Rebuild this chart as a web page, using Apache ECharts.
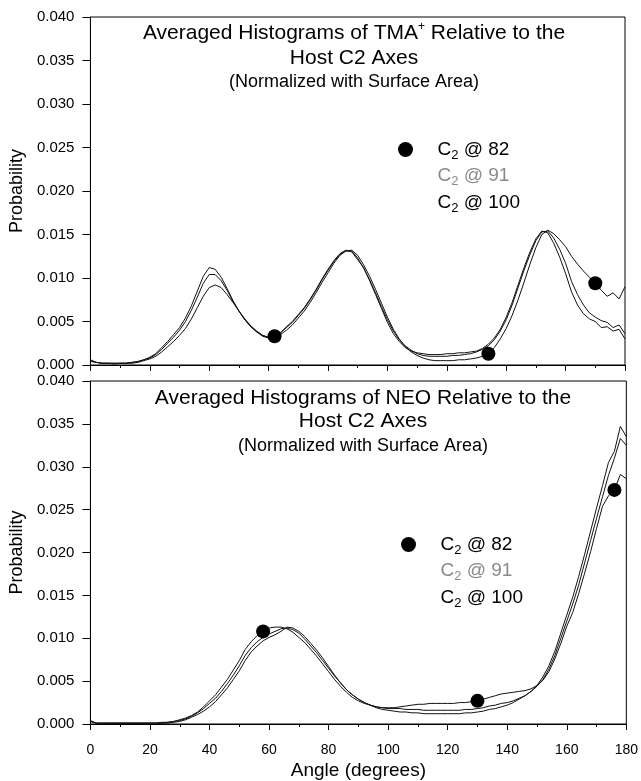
<!DOCTYPE html>
<html>
<head>
<meta charset="utf-8">
<script src="https://cdn.jsdelivr.net/npm/echarts@6/dist/echarts.min.js"></script>
<style>
html,body{margin:0;padding:0;background:#fff;}
#chart{width:641px;height:781px;}
</style>
</head>
<body>
<div id="chart"></div>
<script>
// ---- data ----
const angles = [
  0,2,4,6,8,10,12,14,16,18,
  20,22,24,26,28,30,32,34,36,38,
  40,42,44,46,48,50,52,54,56,58,
  60,62,64,66,68,70,72,74,76,78,
  80,82,84,86,88,90,92,94,96,98,
  100,102,104,106,108,110,112,114,116,118,
  120,122,124,126,128,130,132,134,136,138,
  140,142,144,146,148,150,152,154,156,158,
  160,162,164,166,168,170,172,174,176,178,
  180
];
const xTicks = [0,20,40,60,80,100,120,140,160,180];
const yTicks = [0,0.005,0.010,0.015,0.020,0.025,0.030,0.035,0.040];
const seriesNames = ['C2 @ 82','C2 @ 91','C2 @ 100'];

// Top panel: TMA+
const tmaC2at82 = [
  0.0004,0.0003,0.0002,0.0002,0.0002,0.0002,0.0002,0.0002,0.0003,0.0005,
  0.0007,0.0010,0.0015,0.0021,0.0027,0.0034,0.0042,0.0053,0.0066,0.0079,
  0.0089,0.0092,0.0089,0.0081,0.0072,0.0062,0.0053,0.0045,0.0039,0.0034,
  0.0031,0.0033,0.0035,0.0040,0.0046,0.0054,0.0062,0.0072,0.0083,0.0095,
  0.0106,0.0117,0.0126,0.0131,0.0132,0.0126,0.0115,0.0102,0.0087,0.0071,
  0.0055,0.0041,0.0030,0.0021,0.0015,0.0011,0.0008,0.0006,0.0005,0.0005,
  0.0005,0.0005,0.0006,0.0006,0.0007,0.0008,0.0010,0.0013,0.0020,0.0030,
  0.0042,0.0057,0.0075,0.0095,0.0116,0.0135,0.0150,0.0155,0.0151,0.0144,
  0.0136,0.0125,0.0116,0.0108,0.0101,0.0094,0.0086,0.0079,0.0083,0.0076,
  0.0090
];
const tmaC2at91 = [
  0.0005,0.0003,0.0002,0.0002,0.0002,0.0002,0.0002,0.0003,0.0004,0.0006,
  0.0008,0.0012,0.0018,0.0025,0.0032,0.0040,0.0050,0.0063,0.0078,0.0094,
  0.0104,0.0104,0.0097,0.0086,0.0073,0.0062,0.0052,0.0044,0.0038,0.0034,
  0.0032,0.0033,0.0037,0.0043,0.0049,0.0057,0.0065,0.0075,0.0086,0.0098,
  0.0109,0.0119,0.0127,0.0131,0.0131,0.0123,0.0111,0.0098,0.0083,0.0067,
  0.0052,0.0039,0.0029,0.0022,0.0017,0.0013,0.0011,0.0010,0.0010,0.0010,
  0.0010,0.0011,0.0011,0.0012,0.0013,0.0015,0.0018,0.0022,0.0029,0.0039,
  0.0052,0.0069,0.0089,0.0109,0.0127,0.0143,0.0153,0.0154,0.0146,0.0133,
  0.0117,0.0096,0.0081,0.0069,0.0060,0.0055,0.0051,0.0049,0.0043,0.0046,
  0.0036
];
const tmaC2at100 = [
  0.0006,0.0003,0.0002,0.0002,0.0001,0.0002,0.0002,0.0003,0.0004,0.0006,
  0.0009,0.0013,0.0020,0.0027,0.0035,0.0043,0.0054,0.0068,0.0085,0.0102,
  0.0112,0.0110,0.0101,0.0088,0.0074,0.0062,0.0052,0.0044,0.0038,0.0033,
  0.0031,0.0032,0.0037,0.0044,0.0050,0.0058,0.0066,0.0076,0.0087,0.0099,
  0.0110,0.0120,0.0128,0.0132,0.0130,0.0121,0.0112,0.0097,0.0081,0.0065,
  0.0049,0.0036,0.0027,0.0020,0.0016,0.0014,0.0013,0.0012,0.0012,0.0012,
  0.0013,0.0013,0.0014,0.0014,0.0015,0.0016,0.0019,0.0024,0.0031,0.0041,
  0.0055,0.0072,0.0092,0.0112,0.0130,0.0145,0.0154,0.0152,0.0140,0.0124,
  0.0105,0.0084,0.0069,0.0059,0.0053,0.0050,0.0043,0.0044,0.0039,0.0041,
  0.0030
];
const tmaMarkerAngles = [62,134,170];

// Bottom panel: NEO
const neoC2at82 = [
  0.0004,0.0001,0.0001,0.0001,0.0001,0.0001,0.0001,0.0001,0.0001,0.0001,
  0.0001,0.0001,0.0002,0.0002,0.0003,0.0005,0.0007,0.0010,0.0014,0.0020,
  0.0027,0.0034,0.0043,0.0052,0.0063,0.0074,0.0087,0.0096,0.0103,0.0108,
  0.0112,0.0113,0.0113,0.0111,0.0107,0.0101,0.0095,0.0087,0.0079,0.0070,
  0.0061,0.0052,0.0044,0.0037,0.0031,0.0027,0.0024,0.0022,0.0020,0.0019,
  0.0019,0.0019,0.0020,0.0021,0.0022,0.0023,0.0023,0.0024,0.0024,0.0024,
  0.0024,0.0024,0.0025,0.0025,0.0026,0.0027,0.0029,0.0031,0.0033,0.0035,
  0.0036,0.0037,0.0038,0.0039,0.0041,0.0045,0.0051,0.0061,0.0076,0.0094,
  0.0114,0.0130,0.0152,0.0176,0.0201,0.0228,0.0254,0.0266,0.0273,0.0291,
  0.0286
];
const neoC2at91 = [
  0.0003,0.0001,0.0001,0.0001,0.0001,0.0001,0.0001,0.0001,0.0001,0.0001,
  0.0001,0.0001,0.0001,0.0002,0.0003,0.0004,0.0006,0.0009,0.0013,0.0018,
  0.0024,0.0030,0.0038,0.0047,0.0057,0.0068,0.0080,0.0089,0.0096,0.0101,
  0.0105,0.0108,0.0111,0.0112,0.0110,0.0106,0.0099,0.0091,0.0083,0.0074,
  0.0065,0.0056,0.0048,0.0040,0.0034,0.0029,0.0025,0.0022,0.0020,0.0019,
  0.0018,0.0018,0.0018,0.0017,0.0017,0.0017,0.0016,0.0016,0.0016,0.0016,
  0.0016,0.0016,0.0016,0.0017,0.0017,0.0018,0.0019,0.0021,0.0022,0.0024,
  0.0025,0.0027,0.0030,0.0033,0.0038,0.0044,0.0052,0.0064,0.0080,0.0100,
  0.0120,0.0140,0.0162,0.0188,0.0214,0.0240,0.0265,0.0290,0.0310,0.0333,
  0.0325
];
const neoC2at100 = [
  0.0003,0.0001,0.0001,0.0001,0.0001,0.0001,0.0001,0.0001,0.0001,0.0001,
  0.0001,0.0001,0.0001,0.0001,0.0002,0.0003,0.0005,0.0008,0.0011,0.0015,
  0.0020,0.0026,0.0034,0.0042,0.0052,0.0062,0.0074,0.0084,0.0091,0.0097,
  0.0101,0.0104,0.0108,0.0113,0.0112,0.0108,0.0102,0.0094,0.0086,0.0077,
  0.0067,0.0057,0.0048,0.0040,0.0034,0.0029,0.0025,0.0022,0.0019,0.0017,
  0.0016,0.0015,0.0014,0.0014,0.0013,0.0013,0.0012,0.0012,0.0012,0.0012,
  0.0012,0.0012,0.0012,0.0013,0.0013,0.0014,0.0015,0.0017,0.0018,0.0020,
  0.0022,0.0025,0.0029,0.0033,0.0038,0.0045,0.0055,0.0068,0.0085,0.0106,
  0.0127,0.0148,0.0172,0.0198,0.0225,0.0252,0.0278,0.0305,0.0318,0.0347,
  0.0335
];
const neoMarkerAngles = [58,130,176];

// ---- chart ----
const FONT = '"Liberation Sans", Arial, Helvetica, sans-serif';
const chart = echarts.init(document.getElementById('chart'), null, {renderer: 'canvas'});

function buildData(vals, marks) {
  return angles.map((a, i) => {
    const d = {value: [a, vals[i]]};
    if (marks && marks.indexOf(a) >= 0) { d.symbol = 'circle'; d.symbolSize = 14; }
    return d;
  });
}
function lineSeries(name, vals, marks, idx) {
  return {
    type: 'line', name: name, xAxisIndex: idx, yAxisIndex: idx,
    data: buildData(vals, marks),
    symbol: 'none', showSymbol: true,
    itemStyle: {color: '#000'},
    lineStyle: {color: '#111', width: 1},
    silent: true, animation: false, z: 3
  };
}
function xAxisCfg(idx, showLabels) {
  return {
    type: 'value', gridIndex: idx, min: xTicks[0], max: xTicks[xTicks.length - 1], interval: 20,
    axisLine: {show: true, onZero: false, lineStyle: {color: '#000', width: 1}},
    axisTick: {show: true, inside: false, length: 6, lineStyle: {color: '#000'}},
    minorTick: {show: true, splitNumber: 2, length: 3, lineStyle: {color: '#000'}},
    splitLine: {show: false},
    axisLabel: {show: showLabels, color: '#000', fontSize: 14, fontFamily: FONT, margin: 19},
    name: showLabels ? 'Angle (degrees)' : '',
    nameLocation: 'middle', nameGap: 37,
    nameTextStyle: {color: '#000', fontSize: 19, fontFamily: FONT}
  };
}
function yAxisCfg(idx) {
  return {
    type: 'value', gridIndex: idx, min: yTicks[0], max: yTicks[yTicks.length - 1], interval: 0.005,
    axisLine: {show: true, lineStyle: {color: '#000', width: 1}},
    axisTick: {show: true, inside: false, length: 8, lineStyle: {color: '#000'}},
    splitLine: {show: false},
    axisLabel: {color: '#000', fontSize: 15, fontFamily: FONT, margin: 16,
      formatter: v => v.toFixed(3)},
    name: 'Probability', nameLocation: 'middle', nameGap: 54,
    nameTextStyle: {color: '#000', fontSize: 18, fontFamily: FONT}
  };
}
const legendRich = {
  m: {fontSize: 19, fontFamily: FONT, color: '#000', lineHeight: 24},
  ms: {fontSize: 13, fontFamily: FONT, color: '#000', lineHeight: 13, verticalAlign: 'bottom'},
  g: {fontSize: 19, fontFamily: FONT, color: '#8a8a8a', lineHeight: 24},
  gs: {fontSize: 13, fontFamily: FONT, color: '#8a8a8a', lineHeight: 13, verticalAlign: 'bottom'}
};
function legendCfg(left, top) {
  return {
    orient: 'vertical', left: left, top: top, itemGap: 5,
    itemWidth: 54, itemHeight: 15, selectedMode: false,
    data: [
      {name: seriesNames[0], icon: 'circle', itemStyle: {color: '#000'}},
      {name: seriesNames[1], icon: 'circle', itemStyle: {color: 'rgba(0,0,0,0)', opacity: 0}},
      {name: seriesNames[2], icon: 'circle', itemStyle: {color: 'rgba(0,0,0,0)', opacity: 0}}
    ],
    formatter: function (name) {
      const num = name.split('@ ')[1];
      const k = num === '91' ? 'g' : 'm';
      return '{' + k + '|C}{' + k + 's|2}{' + k + '| @ ' + num + '}';
    },
    textStyle: {rich: legendRich, fontSize: 19, fontFamily: FONT}
  };
}
function titleTexts(cx, y1, y2, y3, species, sup) {
  const rich = {
    t: {fontSize: 21, fontFamily: FONT, fill: '#000', lineHeight: 24},
    sup: {fontSize: 12, fontFamily: FONT, fill: '#000', lineHeight: 12, verticalAlign: 'top'}
  };
  const line1 = sup
    ? '{t|Averaged Histograms of ' + species + '}{sup|+}{t| Relative to the}'
    : '{t|Averaged Histograms of ' + species + ' Relative to the}';
  return [
    {type: 'text', x: cx, y: y1, silent: true, style: {text: line1, rich: rich, align: 'center', verticalAlign: 'middle', fill: '#000', font: '21px ' + FONT}},
    {type: 'text', x: cx, y: y2, silent: true, style: {text: 'Host C2 Axes', align: 'center', verticalAlign: 'middle', fill: '#000', font: '21px ' + FONT}},
    {type: 'text', x: cx, y: y3, silent: true, style: {text: '(Normalized with Surface Area)', align: 'center', verticalAlign: 'middle', fill: '#000', font: '18px ' + FONT}}
  ];
}

const option = {
  backgroundColor: '#fff',
  animation: false,
  grid: [
    {left: 87, top: 17, width: 538, height: 348, show: true, borderColor: '#000', borderWidth: 1, backgroundColor: 'transparent'},
    {left: 89, top: 381, width: 538, height: 346, show: true, borderColor: '#000', borderWidth: 1, backgroundColor: 'transparent'}
  ],
  xAxis: [xAxisCfg(0, false), xAxisCfg(1, true)],
  yAxis: [yAxisCfg(0), yAxisCfg(1)],
  legend: [legendCfg(393, 135), legendCfg(396, 530)],
  graphic: [].concat(
    titleTexts(354, 33, 58, 82, 'TMA', true),
    titleTexts(363, 398, 421, 446, 'NEO', false)
  ),
  series: [
    lineSeries(seriesNames[0], tmaC2at82, tmaMarkerAngles, 0),
    lineSeries(seriesNames[1], tmaC2at91, null, 0),
    lineSeries(seriesNames[2], tmaC2at100, null, 0),
    lineSeries(seriesNames[0], neoC2at82, neoMarkerAngles, 1),
    lineSeries(seriesNames[1], neoC2at91, null, 1),
    lineSeries(seriesNames[2], neoC2at100, null, 1)
  ]
};
chart.setOption(option);
</script>
</body>
</html>
